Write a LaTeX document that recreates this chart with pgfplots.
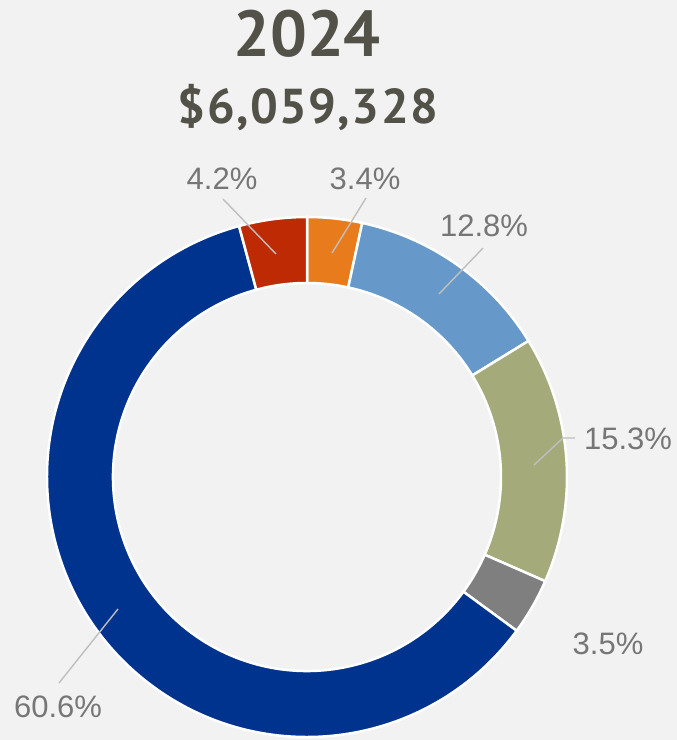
\documentclass[border=0pt]{standalone}
\usepackage{pgfplots}
\pgfplotsset{compat=1.18}
\usepackage{pgfplotstable}
\usepackage{fontspec}
\setmainfont{Liberation Sans}
\newfontfamily\titlefont{PT Sans}
\newfontfamily\amountfont[LetterSpace=3]{PT Sans}
\definecolor{bg}{HTML}{F2F2F2}
\definecolor{cOrange}{HTML}{E87C1D}
\definecolor{cLightBlue}{HTML}{6699C9}
\definecolor{cGreen}{HTML}{A4AA7A}
\definecolor{cGray}{HTML}{7F7F7F}
\definecolor{cDarkBlue}{HTML}{00338D}
\definecolor{cRed}{HTML}{BD2A04}
\definecolor{lbl}{HTML}{767676}
\definecolor{leader}{HTML}{BFBFBF}
\definecolor{titlec}{HTML}{525248}

\pgfplotstableread{
share col
3.4 cOrange
12.8 cLightBlue
15.3 cGreen
3.5 cGray
60.6 cDarkBlue
4.2 cRed
}\datatable

\begin{document}
\begin{tikzpicture}
\xdef\total{0}
\pgfplotstableforeachcolumnelement{share}\of\datatable\as\v{%
  \pgfmathsetmacro\tmp{\total+\v}\xdef\total{\tmp}}
\begin{axis}[width=677pt,height=740pt,scale only axis,
  xmin=0,xmax=677,ymin=0,ymax=740,hide axis,clip=false]
\fill[bg] (axis cs:0,0) rectangle (axis cs:677,740);
\xdef\cum{0}
\pgfplotsinvokeforeach{0,...,5}{%
  \pgfplotstablegetelem{#1}{share}\of\datatable \let\segval\pgfplotsretval
  \pgfplotstablegetelem{#1}{col}\of\datatable \let\segcol\pgfplotsretval
  \pgfmathsetmacro\aS{90-(\cum/\total)*360}
  \pgfmathsetmacro\newcum{\cum+\segval}
  \xdef\cum{\newcum}
  \pgfmathsetmacro\aE{90-(\cum/\total)*360}
  \pgfmathsetmacro\aI{\aE+180}
  \edef\x{\noexpand\fill[\segcol,draw=white,line width=2.5pt] (axis cs:307,263) ++(\aS:260pt) arc[start angle=\aS,end angle=\aE,radius=260pt] -- ++(\aI:66pt) arc[start angle=\aE,end angle=\aS,radius=194pt] -- cycle;}
  \x
}
% leader lines
\draw[leader,line width=1.4pt] (axis cs:223,541) -- (axis cs:276,486);
\draw[leader,line width=1.4pt] (axis cs:366,542) -- (axis cs:332,487);
\draw[leader,line width=1.4pt] (axis cs:483,492) -- (axis cs:439,446);
\draw[leader,line width=1.4pt] (axis cs:575,302) -- (axis cs:563,302) -- (axis cs:534,275);
\draw[leader,line width=1.4pt] (axis cs:59,57) -- (axis cs:118,131);
% labels
\begin{scope}[every node/.style={anchor=base,text=lbl,font=\fontsize{31}{31}\selectfont,inner sep=0pt}]
\node at (axis cs:222,550) {4.2\%};
\node at (axis cs:365,550) {3.4\%};
\node at (axis cs:484,503) {12.8\%};
\node at (axis cs:628,290) {15.3\%};
\node at (axis cs:608,85) {3.5\%};
\node at (axis cs:58,23) {60.6\%};
\end{scope}
\node[anchor=base,inner sep=0pt,text=titlec,font=\titlefont\bfseries\fontsize{65}{65}\selectfont] at (axis cs:307,683) {2024};
\node[anchor=base,inner sep=0pt,text=titlec,font=\amountfont\bfseries\fontsize{49}{49}\selectfont] at (axis cs:308,616) {\$6,059,328};
\coordinate (bbl) at (axis cs:0,0);
\coordinate (btr) at (axis cs:677,740);
\end{axis}
\pgfresetboundingbox
\useasboundingbox (bbl) rectangle (btr);
\end{tikzpicture}
\end{document}
